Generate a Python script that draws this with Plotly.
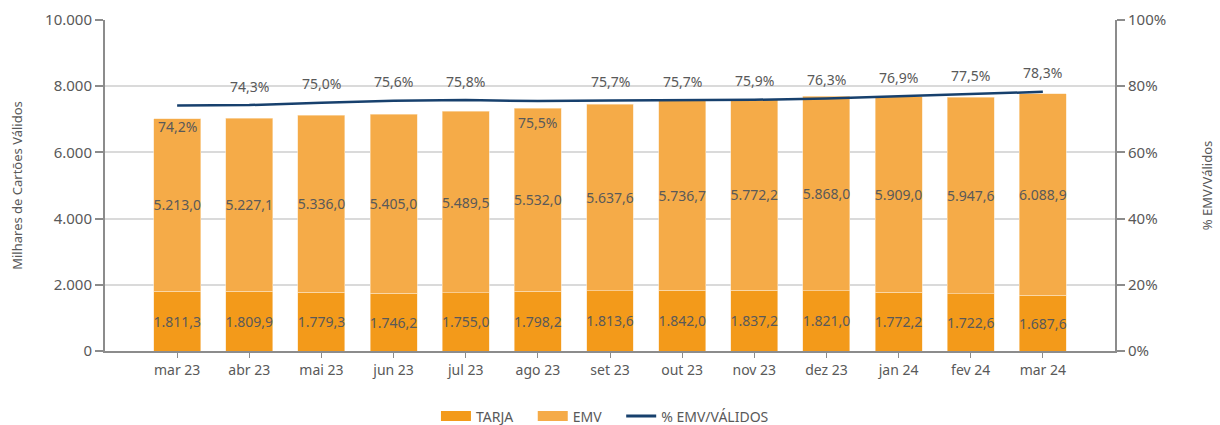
import plotly.graph_objects as go

meses = ["mar 23", "abr 23", "mai 23", "jun 23", "jul 23", "ago 23", "set 23",
         "out 23", "nov 23", "dez 23", "jan 24", "fev 24", "mar 24"]
tarja = [1811.3, 1809.9, 1779.3, 1746.2, 1755.0, 1798.2, 1813.6,
         1842.0, 1837.2, 1821.0, 1772.2, 1722.6, 1687.6]
emv = [5213.0, 5227.1, 5336.0, 5405.0, 5489.5, 5532.0, 5637.6,
       5736.7, 5772.2, 5868.0, 5909.0, 5947.6, 6088.9]
pct_emv = [74.2, 74.3, 75.0, 75.6, 75.8, 75.5, 75.7,
           75.7, 75.9, 76.3, 76.9, 77.5, 78.3]
# labels drawn below the line for these months
label_below = ["mar 23", "ago 23"]

GREY_TXT = "#595959"
AXIS_GREY = "#8C8C8C"
FONT = "Noto Sans"
C_TARJA = "#F39A1A"
C_EMV = "#F5AB48"
C_LINE = "#17406D"

fig = go.Figure()

bar_common = dict(
    texttemplate="%{y:,.1f}", textposition="inside", insidetextanchor="middle",
    textangle=0, constraintext="none", cliponaxis=False,
    textfont=dict(color=GREY_TXT, size=14, family=FONT),
    width=0.65, showlegend=False,
)
fig.add_trace(go.Bar(
    x=meses, y=tarja, name="TARJA",
    marker=dict(color=C_TARJA, line=dict(color="#FCE3C0", width=0.6)),
    **bar_common,
))
fig.add_trace(go.Bar(
    x=meses, y=emv, name="EMV",
    marker=dict(color=C_EMV, line=dict(color="#FCE3C0", width=0.6)),
    **bar_common,
))
fig.add_trace(go.Scatter(
    x=meses, y=pct_emv, name="% EMV/VÁLIDOS", yaxis="y2",
    mode="lines", line=dict(color=C_LINE, width=2.5), showlegend=False,
))

# legend entries: wide rectangles like the original
pad = "\u00a0" * 4
for nome, cor, larg in [("TARJA" + pad, C_TARJA, 13), ("EMV" + pad, C_EMV, 13),
                        ("% EMV/VÁLIDOS", C_LINE, 3)]:
    fig.add_trace(go.Scatter(x=[None], y=[None], name=nome, mode="lines",
                             line=dict(color=cor, width=larg)))

for m, p in zip(meses, pct_emv):
    fig.add_annotation(
        x=m, y=p, yref="y2", text=f"{p:.1f}%".replace(".", ","),
        showarrow=False, yshift=-21 if m in label_below else 19,
        font=dict(color=GREY_TXT, size=14, family=FONT),
    )

fig.update_layout(
    barmode="stack",
    separators=",.",
    width=1220, height=425,
    margin=dict(l=105, r=105, t=20, b=74),
    plot_bgcolor="white", paper_bgcolor="white",
    font=dict(family=FONT, color=GREY_TXT, size=14),
    showlegend=True,
    legend=dict(orientation="h", x=0.495, xanchor="center",
                yref="container", y=0.02, yanchor="middle",
                font=dict(size=14, color=GREY_TXT), traceorder="normal",
                itemwidth=30),
    xaxis=dict(
        range=[-1, 13], showline=True, linecolor=AXIS_GREY, linewidth=2,
        ticks="outside", ticklen=5, tickcolor=AXIS_GREY, tickfont=dict(size=14),
        showgrid=False, automargin=False,
    ),
    yaxis=dict(
        range=[0, 10000], dtick=2000, tickformat=",d",
        showline=True, linecolor=AXIS_GREY, linewidth=2,
        ticks="outside", ticklen=8, tickcolor=AXIS_GREY, tickwidth=2,
        gridcolor="#DADADA", gridwidth=2, zeroline=False, automargin=False,
        title=dict(text="Milhares de Cartões Válidos", font=dict(size=13), standoff=20),
        tickfont=dict(size=15),
    ),
    yaxis2=dict(
        range=[0, 100], dtick=20, ticksuffix="%", overlaying="y", side="right",
        showline=True, linecolor=AXIS_GREY, linewidth=2,
        ticks="outside", ticklen=8, tickcolor=AXIS_GREY, tickwidth=2,
        showgrid=False, zeroline=False, automargin=False,
        title=dict(text="% EMV/Válidos", font=dict(size=13), standoff=38),
        tickfont=dict(size=15),
    ),
)

fig.write_html("out.html", config={"displayModeBar": False},
               post_script="document.body.style.margin='0';")
